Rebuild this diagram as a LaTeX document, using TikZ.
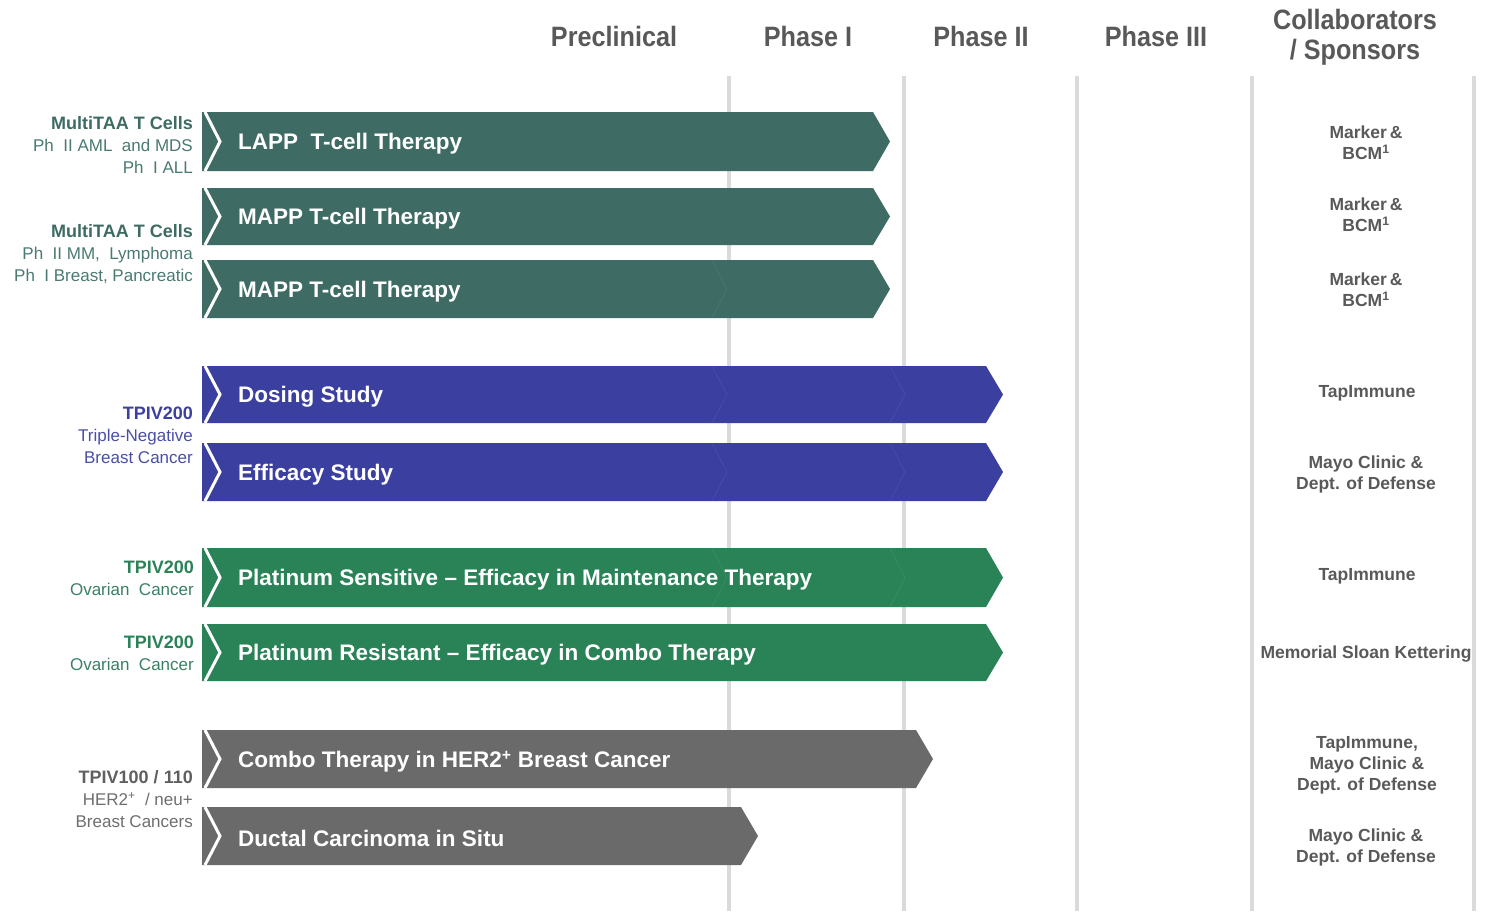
\documentclass[tikz,border=0pt]{standalone}
\usepackage{fontspec}
\setmainfont{Liberation Sans}
\newfontfamily\hdrfont[FakeStretch=0.9]{Liberation Sans}
\definecolor{cteal}{HTML}{3E6B63}
\definecolor{cblue}{HTML}{3B3F9F}
\definecolor{cgreen}{HTML}{2A8257}
\definecolor{cgrey}{HTML}{6A6A6A}
\definecolor{ltteal}{HTML}{4A7A72}
\definecolor{ltblue}{HTML}{4A4FA8}
\definecolor{ltgreen}{HTML}{3A8064}
\definecolor{ltgrey}{HTML}{6E6E6E}
\definecolor{txtgrey}{HTML}{595959}
\definecolor{gridgrey}{HTML}{DADADA}
\newcommand\pipebar[7]{% name, top, bottom, tip x, colour, text, faint chevron x list
  \fill[#5] (202,#2) -- ({#4-17},#2) -- (#4,{(#2+#3)/2}) -- ({#4-17},#3) -- (202,#3) -- cycle;
  \foreach \cx in {#7} {
    \draw[#5!93!white, line width=0.8pt] (\cx,#2) -- ({\cx+15},{(#2+#3)/2}) -- (\cx,#3);
  }
  \draw[white, line width=3pt, line join=miter] (205,#2) -- (220,{(#2+#3)/2}) -- (205,#3);
  \node[bartext] (#1) at (238,{(#2+#3)/2+2.5}) {#6};
}
\tikzset{
  bartext/.style={anchor=west, text=white, font=\fontsize{22.5}{25}\selectfont\bfseries, inner sep=0pt},
  hdr/.style={text=txtgrey, font=\hdrfont\fontsize{28}{31}\selectfont\bfseries, inner sep=0pt, align=center},
  lbl/.style={anchor=east, inner sep=0pt, align=right, font=\fontsize{17}{22}\selectfont},
  spons/.style={text=txtgrey, inner sep=0pt, align=center, font=\fontsize{17.5}{21}\selectfont\bfseries},
  gridline/.style={draw=gridgrey, line width=3.5pt},
}
\newcommand\lblhead[2]{{\fontsize{18}{22}\selectfont\bfseries\color{#1}#2}}
\begin{document}
\begin{tikzpicture}[x=1pt, y=-1pt]
\useasboundingbox (0,0) rectangle (1487,911);
\fill[white] (0,0) rectangle (1487,911);
% grid lines
\foreach \gx in {729,904,1077,1252,1474} {
  \draw[gridline] (\gx,76) -- (\gx,911);
}
% headers
\node[hdr] (hpre) at (614,36) {Preclinical};
\node[hdr] (hp1) at (808,36) {Phase I};
\node[hdr] (hp2) at (981,36) {Phase II};
\node[hdr] (hp3) at (1156,36) {Phase III};
\node[hdr] (hcol) at (1355,37) {Collaborators\\[-1pt]/ Sponsors};
% bars
\pipebar{b1}{112}{171}{890}{cteal}{LAPP\ \ T-cell Therapy}{}
\pipebar{b2}{188}{245}{890}{cteal}{MAPP T-cell Therapy}{}
\pipebar{b3}{260}{318}{890}{cteal}{MAPP T-cell Therapy}{712}
\pipebar{b4}{366}{423}{1003}{cblue}{Dosing Study}{712,890}
\pipebar{b5}{443}{501}{1003}{cblue}{Efficacy Study}{712,890}
\pipebar{b6}{548}{607}{1003}{cgreen}{Platinum Sensitive -- Efficacy in Maintenance Therapy}{712,890}
\pipebar{b7}{624}{681}{1003}{cgreen}{Platinum Resistant -- Efficacy in Combo Therapy}{}
\pipebar{b8}{730}{788}{933}{cgrey}{Combo Therapy in HER2\textsuperscript{+} Breast Cancer}{}
\pipebar{b9}{807}{865}{758}{cgrey}{Ductal Carcinoma in Situ}{}
% left labels
\node[lbl, text=ltteal] (l1) at (193,145) {\lblhead{cteal}{MultiTAA T Cells}\\Ph\ \ II AML\ \ and MDS\\Ph\ \ I ALL};
\node[lbl, text=ltteal] (l2) at (193,254) {\lblhead{cteal}{MultiTAA T Cells}\\Ph\ \ II MM,\ \ Lymphoma\\Ph\ \ I Breast, Pancreatic};
\node[lbl, text=ltblue] (l3) at (193,435) {\lblhead{cblue}{TPIV200}\\Triple-Negative\\Breast Cancer};
\node[lbl, text=ltgreen] (l4) at (194,578.5) {\lblhead{cgreen}{TPIV200}\\Ovarian\ \ Cancer};
\node[lbl, text=ltgreen] (l5) at (194,653.5) {\lblhead{cgreen}{TPIV200}\\Ovarian\ \ Cancer};
\node[lbl, text=ltgrey] (l6) at (193,799) {\lblhead{cgrey!90!black}{TPIV100 / 110}\\HER2\textsuperscript{+}\ \ / neu+\\Breast Cancers};
% sponsors
\node[spons] (s1) at (1366,143) {Marker\,\&\\BCM\textsuperscript{1}};
\node[spons] (s2) at (1366,215) {Marker\,\&\\BCM\textsuperscript{1}};
\node[spons] (s3) at (1366,290) {Marker\,\&\\BCM\textsuperscript{1}};
\node[spons] (s4) at (1367,393) {TapImmune};
\node[spons] (s5) at (1366,474) {Mayo Clinic \&\\Dept. of Defense};
\node[spons] (s6) at (1367,576) {TapImmune};
\node[spons] (s7) at (1366,654) {Memorial Sloan Kettering};
\node[spons] (s8) at (1367,765) {TapImmune,\\Mayo Clinic \&\\Dept. of Defense};
\node[spons] (s9) at (1366,847) {Mayo Clinic \&\\Dept. of Defense};
\end{tikzpicture}
\end{document}
